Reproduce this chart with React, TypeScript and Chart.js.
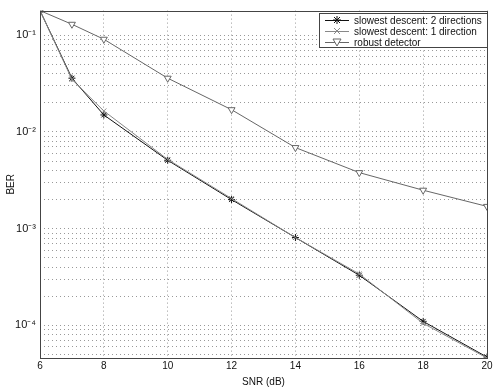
import React, { useEffect, useRef } from "react";
import { Chart, registerables } from "chart.js";
Chart.register(...registerables);

const snr = [6, 7, 8, 10, 12, 14, 16, 18, 20];
const slowest2 = [0.18, 0.036, 0.015, 0.0051, 0.002, 0.00081, 0.00033, 0.00011, 0.000047];
const slowest1 = [0.18, 0.035, 0.0165, 0.0052, 0.00205, 0.00081, 0.00034, 0.000105, 0.000046];
const robust = [0.18, 0.13, 0.091, 0.036, 0.017, 0.0069, 0.0038, 0.0025, 0.0017];
const xTicks = [6, 8, 10, 12, 14, 16, 18, 20];
const yLabels: Record<string, string> = { "-1": "10⁻¹", "-2": "10⁻²", "-3": "10⁻³", "-4": "10⁻⁴" };
const legendLabels = ["slowest descent: 2 directions", "slowest descent: 1 direction", "robust detector"];

const FONT = "'Liberation Sans', Arial, sans-serif";

const framePlugin = {
  id: "frame",
  afterDraw(chart: any) {
    const { ctx, chartArea: a } = chart;
    ctx.save();
    ctx.strokeStyle = "#444";
    ctx.lineWidth = 1;
    ctx.strokeRect(Math.round(a.left) + 0.5, Math.round(a.top) + 0.5, Math.round(a.right - a.left), Math.round(a.bottom - a.top));
    // legend
    const bx = 319, by = 13, bw = 168, bh = 34;
    ctx.fillStyle = "#fff";
    ctx.fillRect(bx, by, bw, bh);
    ctx.strokeRect(bx + 0.5, by + 0.5, bw, bh);
    const colors = ["#111", "#888", "#666"];
    ctx.font = `10px ${FONT}`;
    ctx.textBaseline = "middle";
    for (let i = 0; i < 3; i++) {
      const y = by + 7 + i * 11;
      ctx.strokeStyle = colors[i];
      ctx.beginPath();
      ctx.moveTo(bx + 6, y + 0.5);
      ctx.lineTo(bx + 30, y + 0.5);
      ctx.stroke();
      const cx = bx + 18;
      ctx.beginPath();
      if (i === 0) {
        ctx.moveTo(cx - 3, y - 3); ctx.lineTo(cx + 3, y + 3);
        ctx.moveTo(cx + 3, y - 3); ctx.lineTo(cx - 3, y + 3);
        ctx.moveTo(cx, y - 4); ctx.lineTo(cx, y + 4);
        ctx.moveTo(cx - 4, y); ctx.lineTo(cx + 4, y);
        ctx.stroke();
      } else if (i === 1) {
        ctx.moveTo(cx - 3, y - 3); ctx.lineTo(cx + 3, y + 3);
        ctx.moveTo(cx + 3, y - 3); ctx.lineTo(cx - 3, y + 3);
        ctx.stroke();
      } else {
        ctx.moveTo(cx - 4, y - 3); ctx.lineTo(cx + 4, y - 3); ctx.lineTo(cx, y + 4); ctx.closePath();
        ctx.fillStyle = "#fff";
        ctx.fill();
        ctx.stroke();
      }
      ctx.fillStyle = "#111";
      ctx.fillText(legendLabels[i], bx + 35, y + 1);
    }
    ctx.restore();
  },
};

export default function App() {
  const ref = useRef<HTMLCanvasElement>(null);
  useEffect(() => {
    document.body.style.margin = "0";
    const toPts = (arr: number[]) => snr.map((x, i) => ({ x, y: arr[i] }));
    const chart = new Chart(ref.current!, {
      type: "line",
      data: {
        datasets: [
          {
            label: legendLabels[2],
            data: toPts(robust),
            borderColor: "#666",
            backgroundColor: "#fff",
            borderWidth: 1,
            pointStyle: "triangle",
            rotation: 180,
            pointRadius: 4,
            pointBorderWidth: 1,
          },
          {
            label: legendLabels[1],
            data: toPts(slowest1),
            borderColor: "#888",
            backgroundColor: "#888",
            borderWidth: 1,
            pointStyle: "crossRot",
            pointRadius: 3.5,
            pointBorderWidth: 1,
          },
          {
            label: legendLabels[0],
            data: toPts(slowest2),
            borderColor: "#111",
            backgroundColor: "#111",
            borderWidth: 1,
            pointStyle: "star",
            pointRadius: 3.5,
            pointBorderWidth: 1,
          },
        ],
      },
      options: {
        animation: false,
        responsive: false,
        maintainAspectRatio: false,
        layout: { padding: { top: 8, right: 8, left: 0, bottom: 0 } },
        plugins: { legend: { display: false }, tooltip: { enabled: false } },
        scales: {
          x: {
            type: "linear",
            min: 6,
            max: 20,
            afterBuildTicks: (s: any) => { s.ticks = xTicks.map((v) => ({ value: v })); },
            afterFit: (s: any) => { s.height = 30; },
            ticks: { color: "#111", font: { family: FONT, size: 10 }, padding: 2, maxRotation: 0 },
            grid: { color: "#999", drawTicks: false },
            border: { display: false, dash: [1, 3] },
            title: { display: true, text: "SNR (dB)", color: "#111", font: { family: FONT, size: 10 }, padding: { top: 1, bottom: 0 } },
          },
          y: {
            type: "logarithmic",
            min: 0.000046,
            max: 0.18,
            afterBuildTicks: (s: any) => {
              const t: any[] = [];
              for (let e = -5; e <= 0; e++) {
                for (let k = 1; k <= 9; k++) {
                  const v = k * Math.pow(10, e);
                  if (v >= s.min && v <= s.max) t.push({ value: v });
                }
              }
              s.ticks = t;
            },
            afterFit: (s: any) => { s.width = 40; },
            ticks: {
              autoSkip: false,
              color: "#111",
              font: { family: FONT, size: 11 },
              padding: 4,
              callback: (v: any) => {
                const l = Math.log10(Number(v));
                const r = Math.round(l);
                if (Math.abs(l - r) < 1e-9) return yLabels[String(r)] ?? "";
                return "";
              },
            },
            grid: { color: "#999", drawTicks: false },
            border: { display: false, dash: [1, 3] },
            title: { display: true, text: "BER", color: "#111", font: { family: FONT, size: 10 }, padding: { top: 5, bottom: 2 } },
          },
        },
      },
      plugins: [framePlugin],
    });
    return () => chart.destroy();
  }, []);
  return (
    <div style={{ position: "absolute", left: 0, top: 0, width: 495, height: 388, background: "#fff" }}>
      <canvas ref={ref} width={495} height={388} />
    </div>
  );
}
